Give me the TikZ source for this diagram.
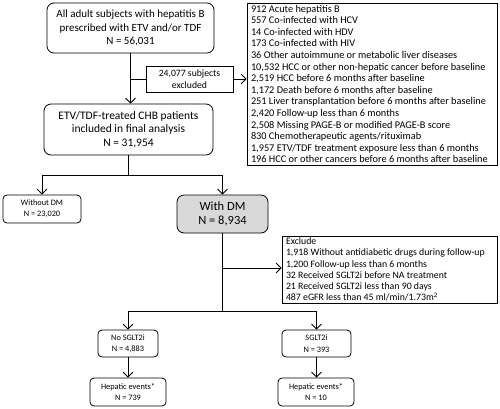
\documentclass[tikz,border=0pt]{standalone}
\usepackage{fontspec}
\setmainfont{Carlito}
\usetikzlibrary{arrows.meta}
\begin{document}
\begin{tikzpicture}[x=1pt,y=-1pt,
  box/.style={draw,line width=0.8pt,rounded corners=7pt,inner sep=0pt,align=center},
  sq/.style={draw,line width=0.8pt,inner sep=0pt},
  ln/.style={line width=0.8pt},
  arr/.style={line width=0.8pt,-{Straight Barb[length=5pt,width=10pt,line width=0.8pt]}}]
\useasboundingbox (0,0) rectangle (500,408);
% boxes
\node[box,minimum width=167pt,minimum height=50pt,font=\fontsize{11}{13.5}\selectfont] (all) at (130.5,28)
  {All adult subjects with hepatitis B\\prescribed with ETV and/or TDF\\N = 56,031};
\node[sq,minimum width=87pt,minimum height=26pt,align=center,font=\fontsize{9.7}{11.5}\selectfont] (ex24) at (189.5,79)
  {24,077 subjects\\excluded};
\node[sq,minimum width=250pt,minimum height=162pt,align=left,font=\fontsize{10.3}{11.6}\selectfont] (excl) at (372,84)
  {\parbox{242pt}{912 Acute hepatitis B\\
557 Co-infected with HCV\\
14 Co-infected with HDV\\
173 Co-infected with HIV\\
36 Other autoimmune or metabolic liver diseases\\
10,532 HCC or other non-hepatic cancer before baseline\\
2,519 HCC before 6 months after baseline\\
1,172 Death before 6 months after baseline\\
251 Liver transplantation before 6 months after baseline\\
2,420 Follow-up less than 6 months\\
2,508 Missing PAGE-B or modified PAGE-B score\\
830 Chemotherapeutic agents/rituximab\\
1,957 ETV/TDF treatment exposure less than 6 months\\
196 HCC or other cancers before 6 months after baseline}};
\node[box,minimum width=169pt,minimum height=51pt,font=\fontsize{11.5}{13.5}\selectfont] (incl) at (128.5,129.5)
  {ETV/TDF-treated CHB patients\\included in final analysis\\N = 31,954};
\node[box,rounded corners=4pt,minimum width=78pt,minimum height=28pt,font=\fontsize{8.3}{11}\selectfont] (nodm) at (42,209)
  {Without DM\\N = 23,020};
\node[box,fill=black!15,minimum width=91pt,minimum height=38pt,font=\fontsize{12.5}{14}\selectfont] (dm) at (222.5,214)
  {With DM\\N = 8,934};
\node[sq,minimum width=215pt,minimum height=67pt,font=\fontsize{9.8}{11.2}\selectfont] (exdm) at (389.5,269.5)
  {\parbox{207pt}{Exclude\\
1,918 Without antidiabetic drugs during follow-up\\
1,200 Follow-up less than 6 months\\
32 Received SGLT2i before NA treatment\\
21 Received SGLT2i less than 90 days\\
487 eGFR less than 45 ml/min/1.73m\textsuperscript{2}}};
\node[box,rounded corners=4pt,minimum width=60pt,minimum height=27pt,font=\fontsize{8.3}{11.5}\selectfont] (nosg) at (128,343.5)
  {No SGLT2i\\N = 4,883};
\node[box,rounded corners=4pt,minimum width=69pt,minimum height=27pt,font=\fontsize{8.3}{11.5}\selectfont] (sg) at (316.5,343.5)
  {SGLT2i\\N = 393};
\node[box,rounded corners=4pt,minimum width=76pt,minimum height=28pt,font=\fontsize{8.3}{11.5}\selectfont] (hep1) at (128,392)
  {Hepatic events*\\N = 739};
\node[box,rounded corners=4pt,minimum width=76pt,minimum height=28pt,font=\fontsize{8.3}{11.5}\selectfont] (hep2) at (316,392)
  {Hepatic events*\\N = 10};
% connectors
\coordinate (j1) at (130,79);
\draw[arr] (all.south) -- (all.south |- incl.north);
\draw[ln] (j1) -- (ex24.west);
\draw[arr] (ex24.east) -- (excl.west |- ex24.east);
\coordinate (s1) at (128.5,175);
\draw[ln] (incl.south) -- (s1);
\draw[ln] (nodm.north |- s1) -- (dm.north |- s1);
\draw[arr] (nodm.north |- s1) -- (nodm.north);
\draw[arr] (dm.north |- s1) -- (dm.north);
\coordinate (s2) at (222.5,311);
\coordinate (j2) at (222.5,268);
\draw[ln] (dm.south) -- (s2);
\draw[arr] (j2) -- (exdm.west |- j2);
\draw[ln] (nosg.north |- s2) -- (sg.north |- s2);
\draw[arr] (nosg.north |- s2) -- (nosg.north);
\draw[arr] (sg.north |- s2) -- (sg.north);
\draw[arr] (nosg.south) -- (hep1.north);
\draw[arr] (sg.south) -- (sg.south |- hep2.north);
\end{tikzpicture}
\end{document}
